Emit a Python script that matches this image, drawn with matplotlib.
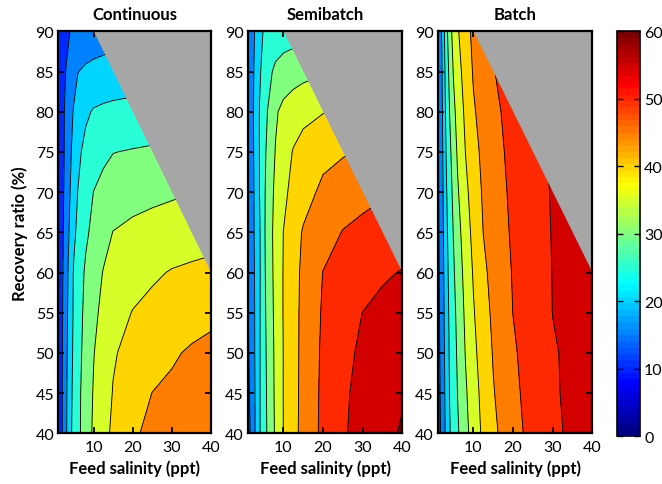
import numpy as np
import matplotlib
matplotlib.use("Agg")
import matplotlib.pyplot as plt
from matplotlib import colors as mcolors
from matplotlib.cm import ScalarMappable

# ---------------- data ----------------
salinity = [1, 2, 3, 4, 5, 6, 8, 10, 12.5, 15, 20, 25, 30, 35, 40]      # ppt
recovery = [40, 45, 50, 55, 60, 65, 70, 75, 80, 85, 90]                  # %

# rows = recovery, columns = salinity
continuous = [
    [12.0, 14.9, 19.3, 23.9, 26.6, 28.8, 32.5, 35.7, 38.6, 40.8, 44.4, 46.0, 46.7, 47.4, 48.0],
    [12.0, 14.95, 19.2, 23.5, 26.4, 28.7, 32.3, 35.3, 37.9, 40.2, 42.8, 45.05, 45.9, 46.7, 47.5],
    [12.0, 14.8, 18.8, 22.9, 26.1, 28.3, 31.8, 34.8, 37.2, 39.6, 41.4, 42.9, 44.4, 45.6, 46.5],
    [12.1, 14.6, 18.5, 22.5, 25.8, 27.9, 31.3, 34.0, 36.1, 37.6, 40.2, 41.3, 42.0, 42.9, 43.7],
    [12.2, 14.4, 18.1, 22.1, 25.6, 27.4, 30.7, 32.9, 35.2, 36.0, 37.7, 39.3, 40.3, 40.8, 41.2],
    [12.2, 14.0, 17.5, 20.9, 24.1, 26.1, 29.2, 31.2, 33.3, 35.1, 36.0, 36.7, 37.2, 37.8, 38.3],
    [12.1, 13.8, 16.9, 19.95, 22.6, 25.1, 27.6, 30.05, 31.4, 32.3, 33.4, 33.9, 34.4, 34.9, 35.4],
    [12.0, 13.6, 16.4, 19.2, 21.7, 24.0, 26.3, 27.7, 29.0, 29.9, 30.3, 30.6, 31.2, 31.8, 32.3],
    [12.0, 13.8, 16.0, 18.5, 20.5, 21.8, 24.2, 25.4, 25.9, 26.2, 26.5, 27.0, 27.5, 28.0, 28.5],
    [11.7, 13.6, 15.2, 16.9, 18.3, 19.9, 20.7, 21.1, 21.5, 21.9, 22.4, 22.9, 23.3, 23.7, 24.0],
    [11.0, 12.5, 13.8, 15.05, 15.8, 16.4, 17.0, 17.5, 17.8, 18.1, 18.6, 19.0, 19.4, 19.7, 20.0],
]

semibatch = [
    [13.5, 16.0, 20.6, 24.6, 27.6, 30.5, 35.7, 40.05, 43.5, 46.5, 51.1, 54.5, 56.6, 58.6, 60.5],
    [13.8, 16.6, 20.7, 24.6, 27.8, 30.8, 35.9, 40.1, 43.4, 46.4, 51.0, 54.3, 56.3, 57.9, 59.5],
    [14.2, 17.1, 20.8, 24.6, 28.0, 31.1, 36.0, 40.1, 43.4, 46.3, 50.8, 53.8, 55.8, 57.2, 58.5],
    [14.5, 17.5, 20.8, 24.5, 28.3, 31.4, 36.3, 40.2, 43.4, 46.2, 50.5, 52.8, 55.05, 56.0, 57.0],
    [14.8, 17.7, 20.9, 24.3, 28.6, 31.8, 36.5, 40.2, 43.3, 46.0, 50.1, 51.6, 53.0, 54.5, 55.2],
    [15.0, 18.0, 21.2, 24.5, 28.8, 32.1, 36.6, 40.05, 43.0, 45.4, 47.8, 50.2, 51.2, 52.0, 53.0],
    [15.2, 18.1, 21.4, 25.05, 28.8, 31.8, 36.1, 38.9, 41.4, 43.2, 46.0, 47.3, 48.6, 49.5, 50.5],
    [15.2, 18.3, 21.7, 25.2, 28.4, 31.1, 35.2, 37.6, 40.3, 42.0, 43.7, 44.6, 45.5, 46.3, 47.0],
    [15.0, 18.4, 21.9, 25.2, 27.6, 30.05, 34.4, 36.2, 37.5, 38.5, 39.8, 40.8, 41.6, 42.3, 43.0],
    [14.8, 18.2, 21.5, 24.4, 26.5, 28.5, 31.0, 32.3, 33.0, 33.6, 34.5, 35.3, 36.0, 36.6, 37.2],
    [14.2, 17.6, 20.8, 23.3, 25.3, 26.0, 26.8, 27.3, 27.8, 28.3, 29.0, 29.5, 30.0, 30.5, 31.0],
]

batch = [
    [13.0, 15.8, 20.6, 24.6, 27.0, 29.3, 33.5, 37.2, 41.0, 43.9, 48.4, 51.5, 54.0, 55.9, 57.5],
    [13.2, 16.2, 21.0, 25.1, 27.6, 30.05, 34.3, 37.9, 41.6, 44.7, 48.9, 51.9, 54.4, 56.0, 57.2],
    [13.4, 16.5, 21.4, 25.5, 28.1, 30.6, 35.2, 38.8, 42.3, 45.3, 49.4, 52.2, 54.6, 55.9, 56.9],
    [13.5, 16.8, 21.9, 25.9, 28.6, 31.25, 35.9, 39.6, 43.1, 45.9, 50.05, 52.5, 55.05, 55.9, 56.7],
    [13.7, 17.2, 22.4, 26.5, 29.4, 32.1, 36.7, 40.4, 44.0, 46.5, 50.3, 52.8, 55.1, 55.9, 56.5],
    [13.9, 17.5, 23.1, 27.1, 30.3, 33.1, 37.7, 41.3, 45.05, 47.1, 50.7, 53.1, 55.2, 55.8, 56.3],
    [14.0, 17.9, 23.8, 27.9, 31.25, 34.4, 38.75, 42.3, 45.6, 47.7, 51.0, 53.4, 55.3, 55.8, 56.2],
    [14.1, 18.3, 24.6, 28.8, 32.4, 35.6, 40.05, 43.3, 46.2, 48.2, 51.4, 53.8, 55.5, 55.8, 56.0],
    [14.2, 18.75, 25.2, 30.05, 33.8, 36.7, 41.0, 44.5, 46.7, 48.7, 52.0, 54.0, 55.5, 56.0, 56.5],
    [14.3, 19.3, 26.1, 31.3, 35.4, 38.0, 42.1, 45.4, 47.6, 49.8, 52.0, 53.8, 55.3, 56.0, 56.5],
    [14.2, 20.1, 27.3, 33.0, 36.7, 39.4, 43.3, 46.0, 48.0, 50.0, 52.0, 54.0, 55.3, 56.0, 56.5],
]

panel_titles = ["Continuous", "Semibatch", "Batch"]
brine_limit = 100          # maximum brine salinity (ppt) -> grey infeasible region
levels = list(range(0, 70, 5))
xticks = [10, 20, 30, 40]
yticks = list(range(40, 95, 5))
cbar_ticks = list(range(0, 70, 10))

# ---------------- plotting ----------------
plt.rcParams["font.family"] = ["Lato", "DejaVu Sans"]

# MATLAB-style jet colormap
jet_anchors = [(0.0, (0, 0, 0.5)), (1 / 8, (0, 0, 1)), (3 / 8, (0, 1, 1)),
               (5 / 8, (1, 1, 0)), (7 / 8, (1, 0, 0)), (1.0, (0.5, 0, 0))]
matlab_jet = mcolors.LinearSegmentedColormap.from_list("matlab_jet", jet_anchors, N=256)
matlab_jet64 = mcolors.LinearSegmentedColormap.from_list("matlab_jet64", jet_anchors, N=64)

fig = plt.figure(figsize=(6.62, 4.85), dpi=100)
W, H = 662.0, 485.0

band_colors = [matlab_jet(min(l / 60.0, 1.0)) for l in levels[:-1]]

X, Y = np.meshgrid(salinity, recovery)
axes_px = [(58.3, 210.9), (247.7, 402.3), (437.7, 592.3)]
top_px, bot_px = 32.3, 434.3

for i, (title, data) in enumerate(zip(panel_titles, [continuous, semibatch, batch])):
    l, r = axes_px[i]
    ax = fig.add_axes([l / W, 1 - bot_px / H, (r - l) / W, (bot_px - top_px) / H])
    Z = np.array(data)
    ax.contourf(X, Y, Z, levels=levels, colors=band_colors, zorder=1)
    ax.contour(X, Y, Z, levels=levels, colors="k", linewidths=0.65, zorder=2)
    # infeasible region (brine salinity above limit)
    smax = salinity[-1]
    rr_low = 100 * (1 - smax / brine_limit)
    rr = np.array([rr_low, recovery[-1]])
    ax.fill_betweenx(rr, brine_limit * (1 - rr / 100), smax, color="#a6a6a6",
                     lw=0, zorder=3)
    ax.set_xlim(salinity[0], salinity[-1])
    ax.set_ylim(recovery[0], recovery[-1])
    ax.set_xticks(xticks)
    ax.set_yticks(yticks)
    ax.tick_params(direction="in", top=True, right=True, length=4, width=1.3,
                   labelsize=11.5)
    ax.tick_params(axis="x", pad=5)
    ax.tick_params(axis="y", pad=3)
    for sp in ax.spines.values():
        sp.set_linewidth(1.6)
        sp.set_zorder(5)
    ax.set_title(title, fontsize=12, fontweight="bold", pad=9)
    ax.set_xlabel("Feed salinity (ppt)", fontsize=12, fontweight="bold", labelpad=4)
    if i == 0:
        ax.set_ylabel("Recovery ratio (%)", fontsize=12, fontweight="bold", labelpad=5)

cax = fig.add_axes([616.7 / W, 1 - 437.3 / H, (640 - 616.7) / W, (437.3 - 32.3) / H])
sm = ScalarMappable(norm=mcolors.Normalize(0, 60), cmap=matlab_jet64)
cb = fig.colorbar(sm, cax=cax, ticks=cbar_ticks)
cb.ax.tick_params(direction="in", left=True, right=True, length=4, width=1.0,
                  labelsize=11.5, pad=3)
cb.outline.set_linewidth(1.2)

fig.savefig("out.png", dpi=100)
